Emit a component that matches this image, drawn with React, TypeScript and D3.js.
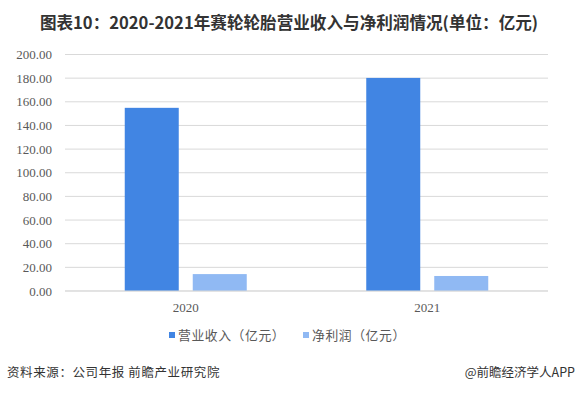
import React from "react";
import * as d3 from "d3";

const categories = ["2020", "2021"];
const revenue = [154.9, 180.2];
const netProfit = [14.3, 12.7];
const seriesNames = ["营业收入（亿元）", "净利润（亿元）"];
const yTicks = [0, 20, 40, 60, 80, 100, 120, 140, 160, 180, 200];

const W = 578;
const H = 393;
const colors = ["#4185E3", "#90B9F3"];

export default function App() {
  const x = d3.scaleBand().domain(categories).range([65, 548]);
  const inner = d3.scaleBand().domain(["0", "1"]).range([0, 122]).paddingInner(14 / 68);
  const y = d3.scaleLinear().domain([0, 200]).range([291, 54.5]);
  const series = [revenue, netProfit];
  const fmt = d3.format(".2f");
  const cjk = "'Noto Sans CJK SC', 'Noto Sans', sans-serif";
  const serif = "'Liberation Serif', 'DejaVu Serif', serif";

  return (
    <svg width={W} height={H} style={{ position: "absolute", left: 0, top: 0, background: "#fff" }}>
      <rect width={W} height={H} fill="#fff" />
      <text x={289} y={29} textAnchor="middle" fontFamily={cjk} fontWeight="bold" fontSize={16.6} fill="#333">
        图表10：2020-2021年赛轮轮胎营业收入与净利润情况(单位：亿元)
      </text>
      {yTicks.map((t) => (
        <g key={t}>
          <line x1={65} x2={548} y1={y(t)} y2={y(t)} stroke="#d9d9d9" strokeWidth={1} />
          <text x={52} y={y(t) + 4.5} textAnchor="end" fontFamily={serif} fontSize={13} fill="#595959">
            {fmt(t)}
          </text>
        </g>
      ))}
      {categories.map((c, i) => {
        const cx = (x(c) as number) + x.bandwidth() / 2 - 61;
        return (
          <g key={c}>
            {series.map((s, j) => (
              <rect
                key={j}
                x={cx + (inner(String(j)) as number)}
                y={y(s[i])}
                width={inner.bandwidth()}
                height={y(0) - y(s[i])}
                fill={colors[j]}
              />
            ))}
            <text x={cx + 61} y={311.5} textAnchor="middle" fontFamily={serif} fontSize={13} fill="#595959">
              {c}
            </text>
          </g>
        );
      })}
      <line x1={65} x2={548} y1={291} y2={291} stroke="#d9d9d9" />
      {seriesNames.map((n, j) => {
        const lx = j === 0 ? 169 : 303;
        return (
          <g key={n}>
            <rect x={lx} y={332} width={6} height={6} fill={colors[j]} />
            <text x={lx + 9} y={340} fontFamily={cjk} fontSize={12.8} fill="#595959" letterSpacing={0.6}>
              {n}
            </text>
          </g>
        );
      })}
      <text x={7} y={377} fontFamily={cjk} fontSize={12.5} fill="#333" letterSpacing={0.6}>
        资料来源：公司年报 前瞻产业研究院
      </text>
      <text x={575} y={377} textAnchor="end" fontFamily={cjk} fontSize={12.5} fill="#333">
        @前瞻经济学人APP
      </text>
    </svg>
  );
}
